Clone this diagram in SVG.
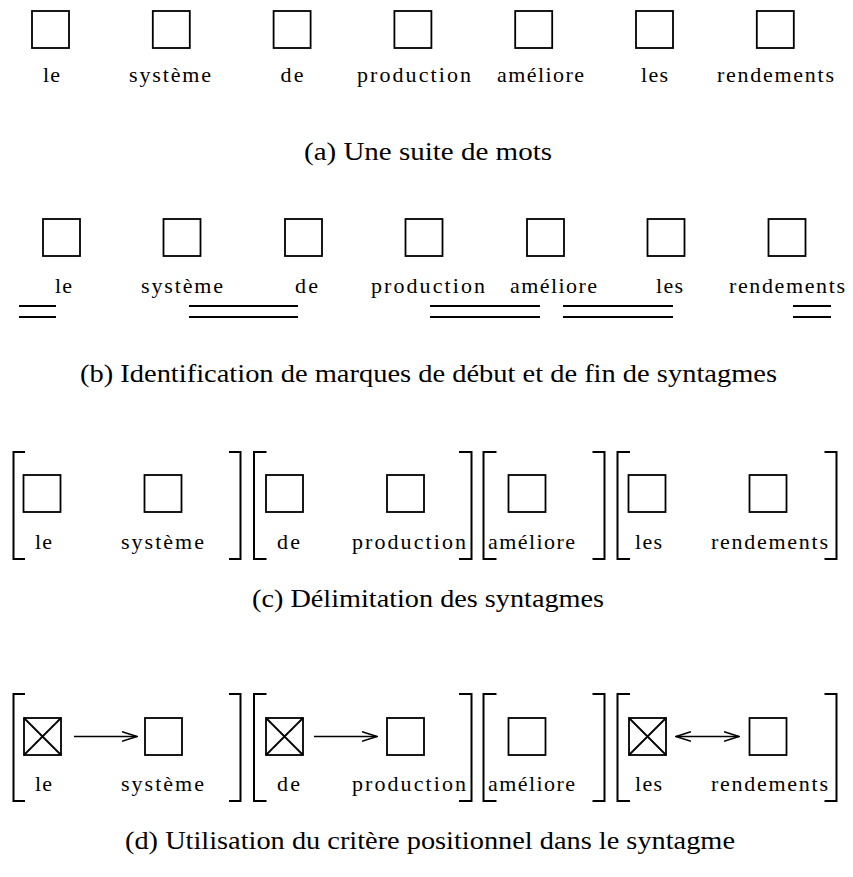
<svg xmlns="http://www.w3.org/2000/svg" width="853" height="877" viewBox="0 0 853 877">
<style>
.box{fill:none;stroke:#000;stroke-width:1.8}
.lbl{font-family:"Liberation Serif","DejaVu Serif",serif;font-size:22px;fill:#000}
.cap{font-family:"Liberation Serif","DejaVu Serif",serif;font-size:26px;fill:#000}
.br{fill:none;stroke:#000;stroke-width:2}
.ul{stroke:#000;stroke-width:1.8}
.arr{fill:none;stroke:#000;stroke-width:1.7}
</style>
<defs>
<marker id="ah" viewBox="0 0 16 12" refX="15" refY="6" markerWidth="16" markerHeight="12" markerUnits="userSpaceOnUse" orient="auto-start-reverse">
<path d="M0,1.2 L15,6 L0,10.8" fill="none" stroke="#000" stroke-width="1.6"/>
</marker>
</defs>
<rect width="853" height="877" fill="#fff"/>

<!-- Panel (a) -->
<g id="panel-a">
<g id="a-le"><rect class="box" x="32" y="11" width="37" height="37"/><text class="lbl" x="43" y="82" textLength="17" lengthAdjust="spacing">le</text></g>
<g id="a-systeme"><rect class="box" x="152.8" y="11" width="37" height="37"/><text class="lbl" x="129" y="82" textLength="82" lengthAdjust="spacing">système</text></g>
<g id="a-de"><rect class="box" x="273.6" y="11" width="37" height="37"/><text class="lbl" x="280.5" y="82" textLength="23" lengthAdjust="spacing">de</text></g>
<g id="a-production"><rect class="box" x="394.4" y="11" width="37" height="37"/><text class="lbl" x="357" y="82" textLength="114" lengthAdjust="spacing">production</text></g>
<g id="a-ameliore"><rect class="box" x="515.2" y="11" width="37" height="37"/><text class="lbl" x="497" y="82" textLength="87" lengthAdjust="spacing">améliore</text></g>
<g id="a-les"><rect class="box" x="636" y="11" width="37" height="37"/><text class="lbl" x="641" y="82" textLength="27" lengthAdjust="spacing">les</text></g>
<g id="a-rendements"><rect class="box" x="756.8" y="11" width="37" height="37"/><text class="lbl" x="717" y="82" textLength="117" lengthAdjust="spacing">rendements</text></g>
<text class="cap" x="304" y="160" textLength="248" lengthAdjust="spacingAndGlyphs">(a) Une suite de mots</text>
</g>

<!-- Panel (b) -->
<g id="panel-b">
<g id="b-le"><rect class="box" x="43" y="219" width="37" height="37"/><text class="lbl" x="55" y="293" textLength="17" lengthAdjust="spacing">le</text></g>
<g id="b-systeme"><rect class="box" x="163.5" y="219" width="37" height="37"/><text class="lbl" x="141" y="293" textLength="82" lengthAdjust="spacing">système</text></g>
<g id="b-de"><rect class="box" x="285" y="219" width="37" height="37"/><text class="lbl" x="295" y="293" textLength="23" lengthAdjust="spacing">de</text></g>
<g id="b-production"><rect class="box" x="405.5" y="219" width="37" height="37"/><text class="lbl" x="371" y="293" textLength="114" lengthAdjust="spacing">production</text></g>
<g id="b-ameliore"><rect class="box" x="527" y="219" width="37" height="37"/><text class="lbl" x="510" y="293" textLength="87" lengthAdjust="spacing">améliore</text></g>
<g id="b-les"><rect class="box" x="647.5" y="219" width="37" height="37"/><text class="lbl" x="656" y="293" textLength="27" lengthAdjust="spacing">les</text></g>
<g id="b-rendements"><rect class="box" x="768.5" y="219" width="37" height="37"/><text class="lbl" x="729" y="293" textLength="116" lengthAdjust="spacing">rendements</text></g>
<g id="b-marks">
<path class="ul" d="M19,306 H56 M19,317 H56"/>
<path class="ul" d="M189,306 H298 M189,317 H298"/>
<path class="ul" d="M430,306 H540 M430,317 H540"/>
<path class="ul" d="M563,306 H673 M563,317 H673"/>
<path class="ul" d="M793,306 H831 M793,317 H831"/>
</g>
<text class="cap" x="80" y="382" textLength="697" lengthAdjust="spacingAndGlyphs">(b) Identification de marques de début et de fin de syntagmes</text>
</g>

<!-- Panel (c) -->
<g id="panel-c">
<g id="c-brackets">
<path class="br" d="M25,452 H13.5 V559 H25"/>
<path class="br" d="M229,452 H240.5 V559 H229"/>
<path class="br" d="M266.5,452 H254 V559 H266.5"/>
<path class="br" d="M459,452 H471.5 V559 H459"/>
<path class="br" d="M496.5,452 H483.5 V559 H496.5"/>
<path class="br" d="M592.5,452 H604.5 V559 H592.5"/>
<path class="br" d="M630,452 H617.5 V559 H630"/>
<path class="br" d="M824.5,452 H836.5 V559 H824.5"/>
</g>
<g id="c-le"><rect class="box" x="23.5" y="475" width="37" height="37"/><text class="lbl" x="35" y="549" textLength="17" lengthAdjust="spacing">le</text></g>
<g id="c-systeme"><rect class="box" x="144.5" y="475" width="37" height="37"/><text class="lbl" x="121" y="549" textLength="83" lengthAdjust="spacing">système</text></g>
<g id="c-de"><rect class="box" x="266" y="475" width="37" height="37"/><text class="lbl" x="277" y="549" textLength="23" lengthAdjust="spacing">de</text></g>
<g id="c-production"><rect class="box" x="387" y="475" width="37" height="37"/><text class="lbl" x="352" y="549" textLength="114" lengthAdjust="spacing">production</text></g>
<g id="c-ameliore"><rect class="box" x="508.5" y="475" width="37" height="37"/><text class="lbl" x="488" y="549" textLength="87" lengthAdjust="spacing">améliore</text></g>
<g id="c-les"><rect class="box" x="628.5" y="475" width="37" height="37"/><text class="lbl" x="635" y="549" textLength="27" lengthAdjust="spacing">les</text></g>
<g id="c-rendements"><rect class="box" x="749.5" y="475" width="37" height="37"/><text class="lbl" x="711" y="549" textLength="117" lengthAdjust="spacing">rendements</text></g>
<text class="cap" x="252" y="607" textLength="352" lengthAdjust="spacingAndGlyphs">(c) Délimitation des syntagmes</text>
</g>

<!-- Panel (d) -->
<g id="panel-d">
<g id="d-brackets">
<path class="br" d="M25,694 H13.5 V801 H25"/>
<path class="br" d="M229,694 H240.5 V801 H229"/>
<path class="br" d="M266.5,694 H254 V801 H266.5"/>
<path class="br" d="M459,694 H471.5 V801 H459"/>
<path class="br" d="M496.5,694 H483.5 V801 H496.5"/>
<path class="br" d="M592.5,694 H604.5 V801 H592.5"/>
<path class="br" d="M630,694 H617.5 V801 H630"/>
<path class="br" d="M824.5,694 H836.5 V801 H824.5"/>
</g>
<g id="d-le"><rect class="box" x="24" y="718" width="37" height="37"/><path class="box" d="M24,718 L61,755 M61,718 L24,755"/><text class="lbl" x="35" y="791" textLength="17" lengthAdjust="spacing">le</text></g>
<g id="d-systeme"><rect class="box" x="145" y="718" width="37" height="37"/><text class="lbl" x="121" y="791" textLength="83" lengthAdjust="spacing">système</text></g>
<g id="d-de"><rect class="box" x="266" y="718" width="37" height="37"/><path class="box" d="M266,718 L303,755 M303,718 L266,755"/><text class="lbl" x="277" y="791" textLength="23" lengthAdjust="spacing">de</text></g>
<g id="d-production"><rect class="box" x="387" y="718" width="37" height="37"/><text class="lbl" x="352" y="791" textLength="114" lengthAdjust="spacing">production</text></g>
<g id="d-ameliore"><rect class="box" x="508.5" y="718" width="37" height="37"/><text class="lbl" x="488" y="791" textLength="87" lengthAdjust="spacing">améliore</text></g>
<g id="d-les"><rect class="box" x="629" y="718" width="37" height="37"/><path class="box" d="M629,718 L666,755 M666,718 L629,755"/><text class="lbl" x="635" y="791" textLength="27" lengthAdjust="spacing">les</text></g>
<g id="d-rendements"><rect class="box" x="749.5" y="718" width="37" height="37"/><text class="lbl" x="711" y="791" textLength="117" lengthAdjust="spacing">rendements</text></g>
<g id="connectors">
<line class="arr" x1="74" y1="736.5" x2="137" y2="736.5" marker-end="url(#ah)"/>
<line class="arr" x1="314" y1="736.5" x2="377" y2="736.5" marker-end="url(#ah)"/>
<line class="arr" x1="676" y1="736.5" x2="739" y2="736.5" marker-start="url(#ah)" marker-end="url(#ah)"/>
</g>
<text class="cap" x="125" y="849" textLength="610" lengthAdjust="spacingAndGlyphs">(d) Utilisation du critère positionnel dans le syntagme</text>
</g>
</svg>
